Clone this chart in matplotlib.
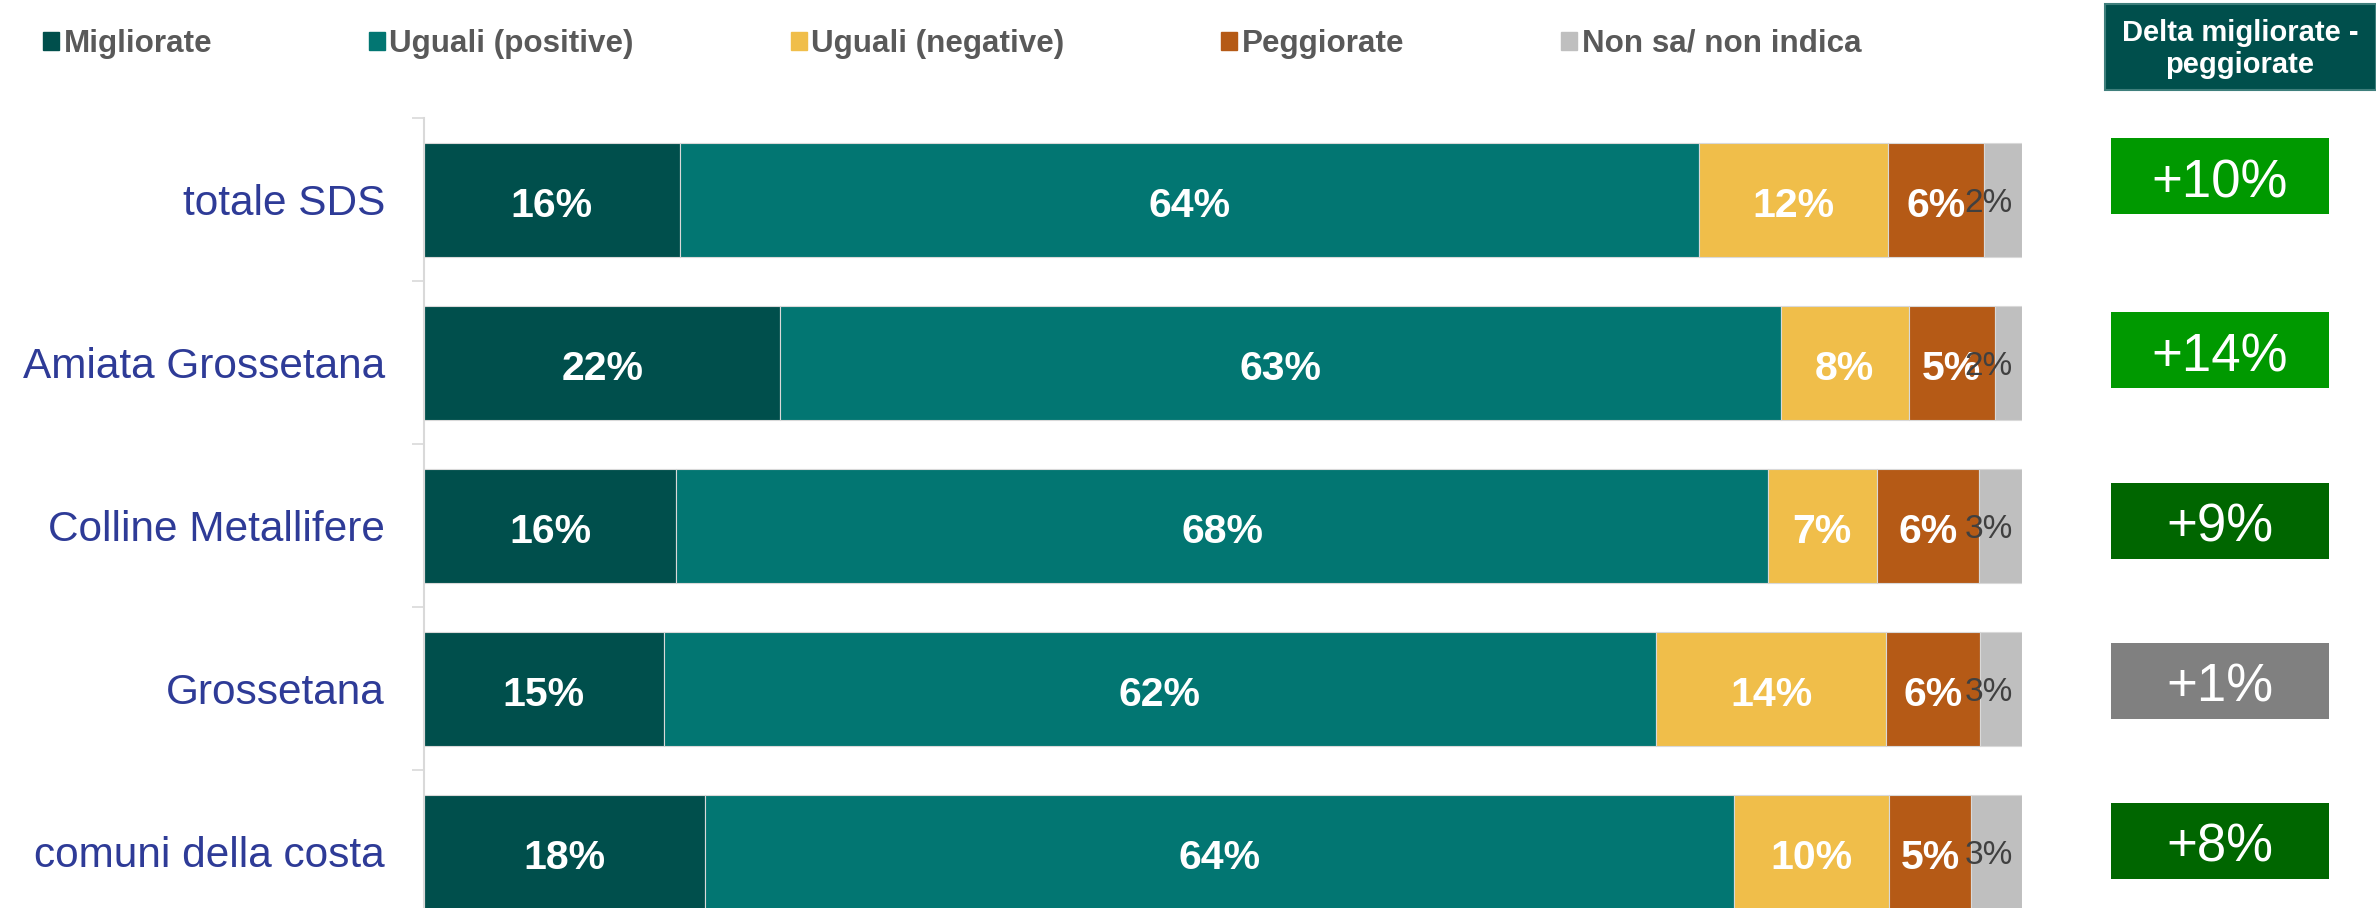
import matplotlib
matplotlib.use('Agg')
import matplotlib.pyplot as plt
from matplotlib.patches import Rectangle
import numpy as np

plt.rcParams['font.family'] = ['Liberation Sans', 'DejaVu Sans']

# ---------------- data ----------------
categories = ['totale SDS', 'Amiata Grossetana', 'Colline Metallifere',
              'Grossetana', 'comuni della costa']
series_names = ['Migliorate', 'Uguali (positive)', 'Uguali (negative)',
                'Peggiorate', 'Non sa/ non indica']
migliorate = [16.0, 22.3, 15.8, 15.0, 17.6]
uguali_pos = [63.8, 62.6, 68.3, 62.1, 64.4]
uguali_neg = [11.8, 8.0, 6.8, 14.4, 9.7]
peggiorate = [6.0, 5.4, 6.4, 5.9, 5.1]
non_sa = [2.4, 1.7, 2.7, 2.6, 3.2]
delta_labels = ['+10%', '+14%', '+9%', '+1%', '+8%']
delta_header = 'Delta migliorate -\npeggiorate'

# ---------------- style ----------------
colors = ['#004F4C', '#027672', '#F0BE4A', '#B55A16', '#BFBFBF']
delta_colors = ['#009900', '#009900', '#006600', '#808080', '#006600']
cat_color = '#2E3B97'

W, H = 2376, 908
fig = plt.figure(figsize=(W / 100, H / 100), dpi=100)
ax_top, ax_bot = 118.5, 933.5
ax = fig.add_axes([424 / W, 1 - ax_bot / H, (2022 - 424) / W, (ax_bot - ax_top) / H])

y = np.arange(len(categories))
left = np.zeros(len(categories))
all_series = [migliorate, uguali_pos, uguali_neg, peggiorate, non_sa]
for i, (name, vals, c) in enumerate(zip(series_names, all_series, colors)):
    vals = np.array(vals)
    ax.barh(y, vals, left=left, height=0.70, color=c, edgecolor='#d9d9d9',
            linewidth=0.8, label=name)
    for yi, (l, v) in enumerate(zip(left, vals)):
        if i < 4:
            ax.annotate(f'{v:.0f}%', xy=(l + v / 2, yi), xytext=(0, -12.2),
                        textcoords='offset points', ha='center', va='baseline',
                        color='white', fontsize=29.5, fontweight='bold')
        else:
            ax.annotate(f'{v:.0f}%', xy=(l + v, yi), xytext=(-6.5, -8.6),
                        textcoords='offset points', ha='right', va='baseline',
                        color='#404040', fontsize=24)
    left = left + vals

ax.set_xlim(0, 100)
ax.set_ylim(4.5, -0.5)
ax.set_yticks(y)
ax.set_yticklabels(categories, fontsize=30.5, color=cat_color)
ax.tick_params(axis='y', which='major', length=0, pad=28)
ax.set_yticks(np.arange(-0.5, len(categories) + 0.5, 1), minor=True)
ax.tick_params(axis='y', which='minor', length=8.6, width=1.2, color='#d9d9d9')
ax.set_xticks([])
for s in ['top', 'right', 'bottom']:
    ax.spines[s].set_visible(False)
ax.spines['left'].set_color('#d9d9d9')
ax.spines['left'].set_linewidth(1.5)

# ---------------- legend ----------------
handles = [Rectangle((0, 0), 1, 1, color=c) for c in colors]
leg = fig.legend(handles, series_names, loc='center left',
                 bbox_to_anchor=(43 / W, 1 - 44 / H), ncol=5, frameon=False,
                 prop={'weight': 'bold', 'size': 22.6},
                 handlelength=0.5, handleheight=0.5, handletextpad=0.15,
                 columnspacing=5.0, borderpad=0, borderaxespad=0)
for t in leg.get_texts():
    t.set_color('#595959')

# ---------------- delta column ----------------
fig.patches.append(Rectangle((2105 / W, 1 - 90 / H), (W - 2105) / W, 86 / H,
                             transform=fig.transFigure, facecolor='#004F4C',
                             edgecolor='#3f7f7c', lw=1.5))
fig.text(2240 / W, 1 - 49 / H, delta_header, ha='center', va='center',
         color='white', fontsize=21, fontweight='bold', linespacing=1.2)

box_top_px = [138, 312, 483, 643, 803]
box_x0, box_w, box_h = 2111, 218, 76
for lab, c, top in zip(delta_labels, delta_colors, box_top_px):
    fig.patches.append(Rectangle((box_x0 / W, 1 - (top + box_h) / H), box_w / W, box_h / H,
                                 transform=fig.transFigure, facecolor=c, edgecolor='none'))
    fig.text((box_x0 + box_w / 2) / W, 1 - (top + 59) / H, lab, ha='center',
             va='baseline', color='white', fontsize=38)

fig.savefig('out.png', dpi=100)
